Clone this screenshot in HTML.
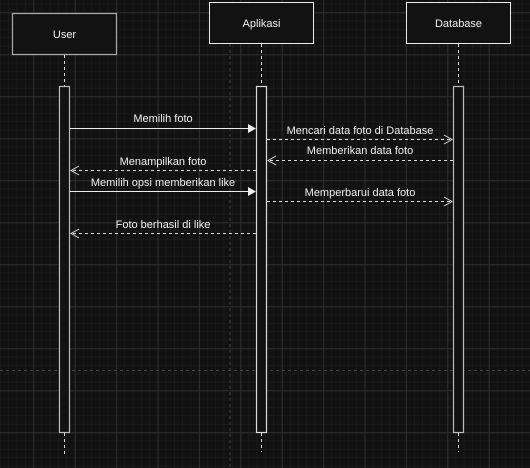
<!DOCTYPE html>
<html><head><meta charset="utf-8"><style>
html,body{margin:0;padding:0;background:#121212;width:530px;height:468px;overflow:hidden}
svg{display:block}
text{font-family:"Liberation Sans",sans-serif;font-size:11px;fill:#f0f0f0}
</style></head><body>
<svg width="530" height="468" viewBox="0 0 530 468" xmlns="http://www.w3.org/2000/svg">
<defs>
<pattern id="minor" x="-8.1" y="12.3" width="8.28" height="8.4" patternUnits="userSpaceOnUse">
<path d="M0 0H8.28M0 0V8.4" stroke="#1f1f1f" stroke-width="1" fill="none"/>
</pattern>
<pattern id="major" x="-8.1" y="12.3" width="41.4" height="42" patternUnits="userSpaceOnUse">
<path d="M0 0.5H41.4M0.5 0V42" stroke="#2e2e2e" stroke-width="1" fill="none"/>
</pattern>
</defs>
<rect width="530" height="468" fill="#121212"/>
<rect width="530" height="468" fill="url(#minor)"/>
<rect width="530" height="468" fill="url(#major)"/>
<line x1="230" y1="44" x2="230" y2="468" stroke="#444" stroke-dasharray="3,3"/>
<line x1="0" y1="370.5" x2="530" y2="370.5" stroke="#444" stroke-dasharray="3,3"/>

<g fill="#121212" stroke="#aaa" stroke-width="1.2">
<rect x="12.5" y="13.5" width="104" height="41"/>
</g>
<g fill="#121212" stroke="#eee" stroke-width="1">
<rect x="209.5" y="2.5" width="104" height="41"/>
<rect x="406.5" y="2.5" width="104" height="41"/>
</g>
<text x="64.5" y="38" text-anchor="middle" font-size="13">User</text>
<text x="261.5" y="27" text-anchor="middle" font-size="13">Aplikasi</text>
<text x="458.5" y="27" text-anchor="middle" font-size="13">Database</text>

<g stroke="#ddd" stroke-dasharray="3,3">
<line x1="64.5" y1="55" x2="64.5" y2="87"/>
<line x1="261.5" y1="44" x2="261.5" y2="87"/>
<line x1="458.5" y1="44" x2="458.5" y2="87"/>
<line x1="64.5" y1="433" x2="64.5" y2="455"/>
<line x1="261.5" y1="433" x2="261.5" y2="452"/>
<line x1="458.5" y1="433" x2="458.5" y2="452"/>
</g>
<g fill="#121212" stroke-width="1.2">
<rect x="59.5" y="86.5" width="10" height="346" stroke="#bbb"/>
<rect x="256.5" y="86.5" width="10" height="346" stroke="#ddd"/>
<rect x="453.5" y="86.5" width="10" height="346" stroke="#bbb"/>
</g>

<g stroke="#eee" fill="none">
<line x1="70" y1="128.5" x2="250" y2="128.5"/>
<line x1="70" y1="191.5" x2="250" y2="191.5"/>
</g>
<g fill="#eee">
<path d="M248 124L256 128.5L248 133Z"/>
<path d="M248 187L256 191.5L248 196Z"/>
</g>
<g stroke="#ddd" fill="none" stroke-dasharray="3,3">
<line x1="267" y1="139.5" x2="452" y2="139.5"/>
<line x1="270" y1="160.5" x2="453" y2="160.5"/>
<line x1="73" y1="170.5" x2="256" y2="170.5"/>
<line x1="267" y1="201.5" x2="452" y2="201.5"/>
<line x1="73" y1="233.5" x2="256" y2="233.5"/>
</g>
<g stroke="#ddd" fill="none">
<path d="M444 135L452 139.5L444 144"/>
<path d="M444 197L452 201.5L444 206"/>
<path d="M276 156L268 160.5L276 165"/>
<path d="M79 166L71 170.5L79 175"/>
<path d="M79 229L71 233.5L79 238"/>
</g>

<text x="163" y="122" text-anchor="middle">Memilih foto</text>
<text x="360" y="134" text-anchor="middle">Mencari data foto di Database</text>
<text x="360" y="154" text-anchor="middle">Memberikan data foto</text>
<text x="163" y="165" text-anchor="middle">Menampilkan foto</text>
<text x="163" y="186" text-anchor="middle">Memilih opsi memberikan like</text>
<text x="360" y="196" text-anchor="middle">Memperbarui data foto</text>
<text x="163" y="228" text-anchor="middle">Foto berhasil di like</text>
</svg>
</body></html>
